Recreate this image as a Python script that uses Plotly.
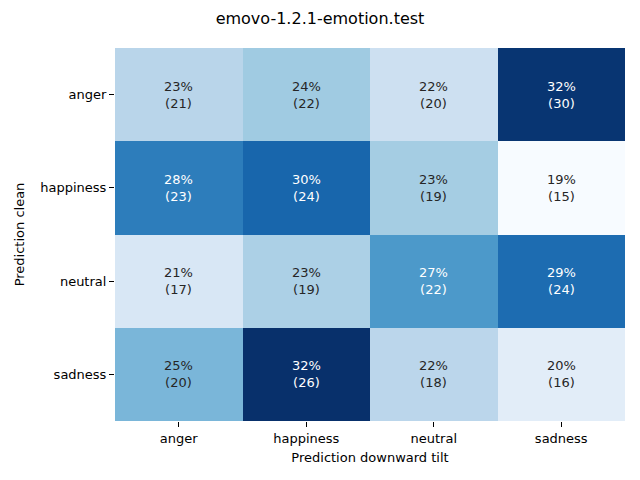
import plotly.graph_objects as go
import plotly.colors as pc

title = "emovo-1.2.1-emotion.test"
x_labels = ["anger", "happiness", "neutral", "sadness"]
y_labels = ["anger", "happiness", "neutral", "sadness"]
counts_anger = [21, 22, 20, 30]
counts_happiness = [23, 24, 19, 15]
counts_neutral = [17, 19, 22, 24]
counts_sadness = [20, 26, 18, 16]
counts = [counts_anger, counts_happiness, counts_neutral, counts_sadness]

pct = [[100.0 * c / sum(row) for c in row] for row in counts]
zmin = min(min(r) for r in pct)
zmax = max(max(r) for r in pct)

fig = go.Figure()
fig.add_trace(go.Heatmap(
    z=pct, x=x_labels, y=y_labels,
    colorscale="Blues", zmin=zmin, zmax=zmax,
    showscale=False, xgap=0, ygap=0, hoverinfo="skip",
))

def lum(rgb):
    vals = []
    for v in rgb:
        v = v / 255.0
        vals.append(v / 12.92 if v <= 0.03928 else ((v + 0.055) / 1.055) ** 2.4)
    return 0.2126 * vals[0] + 0.7152 * vals[1] + 0.0722 * vals[2]

annotations = []
for i, row in enumerate(pct):
    for j, v in enumerate(row):
        t = (v - zmin) / (zmax - zmin)
        col = pc.sample_colorscale("Blues", [t])[0]
        rgb = [float(s) for s in col[col.index("(") + 1:col.index(")")].split(",")]
        color = "#262626" if lum(rgb) > 0.408 else "white"
        annotations.append(dict(
            x=x_labels[j], y=y_labels[i],
            text=f"{v:.0f}%<br>({counts[i][j]})",
            showarrow=False,
            font=dict(color=color, size=13, family="DejaVu Sans"),
        ))

fig.update_layout(
    width=640, height=480,
    margin=dict(l=107, r=23, t=40, b=67),
    paper_bgcolor="white", plot_bgcolor="white",
    title=dict(text=title, x=(320 - 8) / 640, xanchor="center",
               y=1 - 10 / 480, yanchor="middle",
               font=dict(size=16, family="DejaVu Sans", color="black")),
    font=dict(family="DejaVu Sans", color="black", size=13),
    annotations=annotations,
    xaxis=dict(title=dict(text="Prediction downward tilt", standoff=8,
                          font=dict(size=13)),
               ticks="outside", ticklen=5, tickcolor="black",
               showgrid=False, zeroline=False, showline=False),
    yaxis=dict(title=dict(text="Prediction clean", standoff=12, font=dict(size=13)),
               autorange="reversed",
               ticks="outside", ticklen=5, tickcolor="black",
               showgrid=False, zeroline=False, showline=False),
)

fig.write_html("out.html")
